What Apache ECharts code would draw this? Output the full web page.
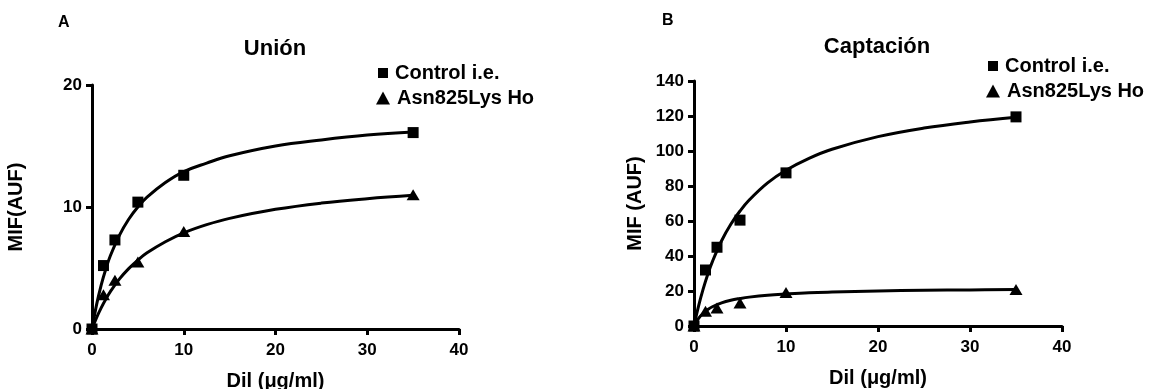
<!DOCTYPE html>
<html>
<head>
<meta charset="utf-8">
<script src="https://cdn.jsdelivr.net/npm/echarts@6/dist/echarts.min.js"></script>
<style>
html,body{margin:0;padding:0;background:#fff;}
#chart{width:1155px;height:389px;}
</style>
</head>
<body>
<div id="chart"></div>
<script>
// ---- data ----
var doseX = [0, 1.25, 2.5, 5, 10, 35];
var unionControl = [0, 5.2, 7.3, 10.4, 12.6, 16.1];
var unionMutant = [0, 2.8, 4.0, 5.5, 8.0, 11.0];
var captControl = [0, 32, 45, 60.5, 87.5, 119.5];
var captMutant = [0, 8.4, 10.3, 13.1, 19.2, 20.8];

// fitted curves
var curveX = [0, 0.5, 1, 1.5, 2, 3, 4, 5, 6, 8, 10, 12.5, 15, 20, 25, 30, 35];
var unionControlFit = [0, 2.0, 3.6, 4.9, 6.0, 7.7, 9.0, 10.0, 10.8, 12.0, 12.9, 13.6, 14.2, 15.0, 15.5, 15.9, 16.15];
var unionMutantFit = [0, 0.93, 1.73, 2.44, 3.06, 4.11, 4.95, 5.65, 6.24, 7.15, 7.88, 8.55, 9.07, 9.81, 10.32, 10.68, 10.96];
var captControlFit = [0, 11.5, 21.2, 29.6, 36.8, 48.7, 58.1, 65.7, 72.0, 81.8, 89.0, 95.8, 101.0, 108.2, 113.1, 116.6, 119.3];
var captMutantFit = [0, 4.4, 7.3, 9.4, 11.0, 13.2, 14.7, 15.7, 16.5, 17.6, 18.3, 19.0, 19.4, 20.0, 20.4, 20.6, 20.8];

var xTicks = [0, 10, 20, 30, 40];
var unionTicks = [0, 10, 20];
var captTicks = [0, 20, 40, 60, 80, 100, 120, 140];

var seriesNames = ['Control i.e.', 'Asn825Lys Ho'];
var panelLetters = ['A', 'B'];
var panelTitles = ['Unión', 'Captación'];
var yNames = ['MIF(AUF)', 'MIF (AUF)'];
var xName = 'Dil (\u03BCg/ml)';

// ---- build ----
var FONT = '"Liberation Sans", Arial, Helvetica, sans-serif';
function pts(xs, ys){ return xs.map(function(x,i){ return [x, ys[i]]; }); }

function xAxisCfg(idx, gap){
  return {
    gridIndex: idx, type: 'value', min: xTicks[0], max: xTicks[xTicks.length-1], interval: 10,
    name: xName, nameLocation: 'middle', nameGap: gap,
    nameTextStyle: {fontFamily: FONT, fontWeight: 'bold', fontSize: 20, color: '#000'},
    axisLine: {lineStyle: {color: '#000', width: 3}},
    axisTick: {show: true, length: 6, lineStyle: {color: '#000', width: 3}},
    axisLabel: {fontFamily: FONT, fontWeight: 'bold', fontSize: 17, color: '#000', margin: 13},
    splitLine: {show: false}
  };
}
function yAxisCfg(idx, ticks, interval, name, gap){
  return {
    gridIndex: idx, type: 'value', min: ticks[0], max: ticks[ticks.length-1], interval: interval,
    name: name, nameLocation: 'middle', nameGap: gap,
    nameTextStyle: {fontFamily: FONT, fontWeight: 'bold', fontSize: 20, color: '#000'},
    axisLine: {show: true, lineStyle: {color: '#000', width: 3}},
    axisTick: {show: true, length: 6, lineStyle: {color: '#000', width: 3}},
    axisLabel: {fontFamily: FONT, fontWeight: 'bold', fontSize: 17, color: '#000', margin: 10},
    splitLine: {show: false}
  };
}
function curve(idx, data){
  return {type: 'line', xAxisIndex: idx, yAxisIndex: idx, data: pts(curveX, data), smooth: 0.4,
    showSymbol: false, symbol: 'none', lineStyle: {color: '#000', width: 3}, silent: true, z: 2, legendHoverLink: false};
}
function scatter(idx, name, data, sym, size){
  return {type: 'scatter', name: name, xAxisIndex: idx, yAxisIndex: idx, data: pts(doseX, data),
    symbol: sym, symbolSize: size, itemStyle: {color: '#000', opacity: 1}, z: 3};
}
function legendItem(name, icon, w, h, left, top){
  return {data: [{name: name, icon: icon, itemStyle: {color: '#000', opacity: 1}}], left: left, top: top, orient: 'vertical',
    itemWidth: w, itemHeight: h, selectedMode: false, padding: 0,
    textStyle: {fontFamily: FONT, fontWeight: 'bold', fontSize: 20, color: '#000', padding: [0,0,0,2]}};
}

var option = {
  animation: false,
  backgroundColor: '#fff',
  title: [
    {text: panelLetters[0], left: 58, top: 15, textStyle: {fontFamily: FONT, fontWeight: 'bold', fontSize: 16, color: '#000'}, padding: 0},
    {text: panelLetters[1], left: 662, top: 13, textStyle: {fontFamily: FONT, fontWeight: 'bold', fontSize: 16, color: '#000'}, padding: 0},
    {text: panelTitles[0], left: 275, textAlign: 'center', top: 38, textStyle: {fontFamily: FONT, fontWeight: 'bold', fontSize: 22, color: '#000'}, padding: 0},
    {text: panelTitles[1], left: 877, textAlign: 'center', top: 36, textStyle: {fontFamily: FONT, fontWeight: 'bold', fontSize: 22, color: '#000'}, padding: 0}
  ],
  legend: [
    legendItem(seriesNames[0], 'rect', 10, 10, 378, 63),
    legendItem(seriesNames[1], 'triangle', 14, 13, 376, 88),
    legendItem(seriesNames[0], 'rect', 10, 10, 988, 56),
    legendItem(seriesNames[1], 'triangle', 14, 13, 986, 81)
  ],
  grid: [
    {left: 92, right: 696, top: 85, bottom: 60, outerBoundsMode: 'none', containLabel: false},
    {left: 694, right: 93, top: 81, bottom: 63, outerBoundsMode: 'none', containLabel: false}
  ],
  xAxis: [xAxisCfg(0, 42), xAxisCfg(1, 42)],
  yAxis: [yAxisCfg(0, unionTicks, 10, yNames[0], 66), yAxisCfg(1, captTicks, 20, yNames[1], 49)],
  series: [
    curve(0, unionControlFit),
    curve(0, unionMutantFit),
    curve(1, captControlFit),
    curve(1, captMutantFit),
    scatter(0, seriesNames[0], unionControl, 'rect', 11),
    scatter(0, seriesNames[1], unionMutant, 'triangle', [13, 11]),
    scatter(1, seriesNames[0], captControl, 'rect', 11),
    scatter(1, seriesNames[1], captMutant, 'triangle', [13, 11])
  ]
};
var chart = echarts.init(document.getElementById('chart'), null, {renderer: 'canvas'});
chart.setOption(option);
</script>
</body>
</html>
